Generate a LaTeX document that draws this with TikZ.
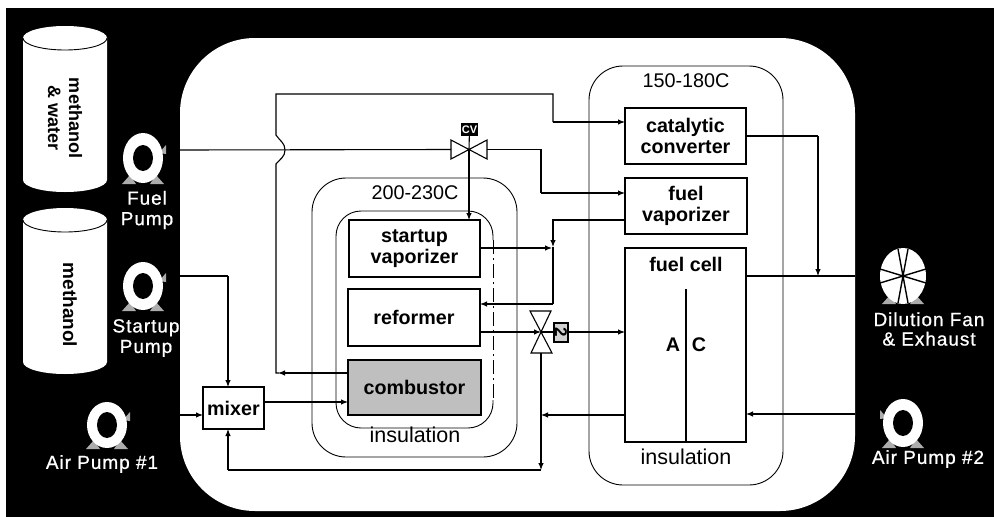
\documentclass[tikz,border=0pt]{standalone}
\usepackage{fontspec}
\setmainfont{Liberation Sans}
\newfontfamily\labfont[LetterSpace=5,FakeBold=0.8]{Liberation Sans}
\usetikzlibrary{arrows.meta,calc}
\tikzset{
  line/.style={draw=black,line width=1.1pt},
  flow/.style={line,-{Latex[length=7pt,width=5.5pt]}},
  boxnode/.style={draw=black,line width=1.2pt,fill=white,outer sep=0pt,inner sep=0pt,align=center,
    font=\fontsize{19.7}{21}\selectfont\bfseries},
  zone/.style={draw=black,line width=0.9pt,rounded corners=34pt,outer sep=0pt,inner sep=0pt},
  whitelab/.style={text=white,align=center,inner sep=0pt,font=\fontsize{19}{19.5}\selectfont\labfont},
  zonelab/.style={inner sep=0pt,font=\fontsize{19.8}{22}\selectfont},
  tanklab/.style={rotate=-90,inner sep=0pt,align=center,font=\fontsize{18}{21}\selectfont\bfseries},
  foot/.style={fill=gray!65,draw=none},
  valve/.style={draw=black,line width=1.1pt,fill=white,line join=miter},
}
\newcommand{\tankshape}[3]{% x centre, top-ellipse y, bottom-ellipse y
  \fill[white] (#1-42,#2) -- (#1-42,#3) arc[start angle=180,end angle=360,x radius=42pt,y radius=12pt]
    -- (#1+42,#2) arc[start angle=0,end angle=180,x radius=42pt,y radius=12pt] -- cycle;
  \draw[black,line width=0.9pt] (#1-42,#2) arc[start angle=180,end angle=360,x radius=42pt,y radius=12pt];
}
\newcommand{\pumpshape}[5]{% x, y, rx, ry, side of the small mark (+1 right, -1 left)
  \begin{scope}[shift={(#1,#2)}]
    \fill[foot] (-21,#4+1) -- (-7,#4+1) -- (-13,#4-8) -- cycle;
    \fill[foot] (7,#4+1) -- (21,#4+1) -- (13,#4-8) -- cycle;
    \fill[foot] (#5*16,-5) -- (#5*23,-13) -- (#5*23,-4) -- cycle;
    \fill[white] (0,0) ellipse[x radius=#3pt,y radius=#4pt];
    \fill[black] (0,0) ellipse[x radius=10pt,y radius=13pt];
  \end{scope}
}
\begin{document}
\begin{tikzpicture}[x=1pt,y=-1pt]
\useasboundingbox (0,0) rectangle (994,517);
\fill[black] (6,8) rectangle (994,517);
\node[fill=white,rounded corners=75pt,minimum width=675pt,minimum height=473pt,inner sep=0pt,outer sep=0pt] (panel) at (517.5,274.5) {};

% tanks
\tankshape{65}{38}{180}
\tankshape{65}{220}{362}
\node[tanklab] (tankA) at (65,118) {methanol\\\& water};
\node[tanklab,font=\fontsize{19}{21}\selectfont\bfseries] (tankB) at (70,305) {methanol};

% pumps and fan
\pumpshape{143}{158}{20}{25}{1}
\pumpshape{143}{286}{20}{24}{1}
\pumpshape{107}{425}{20}{23}{1}
\pumpshape{903}{423}{20}{24}{-1}
\begin{scope}[shift={(903,276)}]
  \fill[foot] (-21,28) -- (-7,28) -- (-13,19) -- cycle;
  \fill[foot] (7,28) -- (21,28) -- (13,19) -- cycle;
  \fill[white] (0,0) ellipse[x radius=23pt,y radius=28pt];
  \draw[black,line width=1.4pt] (-5,-27) -- (5,27) (5,-27) -- (-5,27) (-23,-7) -- (23,7) (23,-7) -- (-23,7);
\end{scope}
\node[whitelab] (lfuel) at (147,210) {Fuel\\[1pt]Pump};
\node[whitelab] (lstart) at (146,338) {Startup\\[1pt]Pump};
\node[whitelab] (lair1) at (102,464) {Air Pump \#1};
\node[whitelab] (ldil) at (929,329) {Dilution Fan\\[0pt]\& Exhaust};
\node[whitelab] (lair2) at (928,459) {Air Pump \#2};

% zones
\node[zone,minimum width=194pt,minimum height=419pt] (zoneB) at (686,275.5) {};
\node[zone,minimum width=205pt,minimum height=279pt] (zoneA) at (414.5,317.5) {};
\node[zonelab] (lzb) at (686,81) {150-180C};
\node[zonelab] (lza) at (415,193) {200-230C};
\node[inner sep=0pt,font=\fontsize{21.5}{23}\selectfont] (insa) at (415,435) {insulation};
\node[inner sep=0pt,font=\fontsize{21.5}{23}\selectfont] (insb) at (686,457) {insulation};
% inner insulation outline
\draw[black,line width=0.9pt,rounded corners=25pt] (493,240) -- (493,211) -- (336,211) -- (336,428) -- (493,428) -- (493,400);
\draw[black,line width=0.9pt,dash pattern=on 14pt off 4pt on 2pt off 4pt] (493,240) -- (493,400);

% component boxes
\node[boxnode,minimum width=121pt,minimum height=56pt] (cat) at (685.5,136) {catalytic\\converter};
\node[boxnode,minimum width=122pt,minimum height=56pt] (fvap) at (686,206) {fuel\\vaporizer};
\node[boxnode,minimum width=121pt,minimum height=194pt] (cell) at (685.5,345) {};
\node[inner sep=0pt,font=\fontsize{19.7}{23}\selectfont\bfseries] (lcell) at (686,264) {fuel cell};
\coordinate (divtop) at (686,289);
\draw[line] (divtop) -- (divtop |- cell.south);
\node[inner sep=0pt,font=\fontsize{19.7}{23}\selectfont\bfseries] (lA) at (673,345) {A};
\node[inner sep=0pt,font=\fontsize{19.7}{23}\selectfont\bfseries] (lC) at (699,345) {C};
\node[boxnode,minimum width=131pt,minimum height=57pt] (svap) at (414.5,248.5) {startup\\vaporizer};
\node[boxnode,minimum width=132pt,minimum height=57pt] (ref) at (414,317.5) {reformer};
\node[boxnode,fill=gray!50,line width=1.8pt,minimum width=133pt,minimum height=55pt] (comb) at (414.5,387.5) {combustor};
\node[boxnode,minimum width=61pt,minimum height=42pt] (mix) at (233.5,408) {mixer};

% free ends on the edge of the panel
\coordinate (fuelout) at (180,150);
\coordinate (startout) at (180,276);
\coordinate (air1out) at (180,415);
\coordinate (fanin) at (855,276);
\coordinate (air2out) at (855,414);

% valves
\coordinate (cv) at (469,149.5);
\coordinate (vt) at (541,332);
\draw[valve] (451,140) -- (cv) -- (451,159) -- cycle;
\draw[valve] (487,140) -- (cv) -- (487,159) -- cycle;
\draw[valve] (530,311) -- (551,311) -- (vt) -- cycle;
\draw[valve] (531,353) -- (552,353) -- (vt) -- cycle;
\node[fill=black,inner sep=0pt,minimum width=17pt,minimum height=13pt,text=white,font=\fontsize{11}{12}\selectfont\bfseries] (cvbox) at (469.5,129.5) {CV};
\node[draw=black,fill=gray!35,line width=1.2pt,inner sep=0pt,outer sep=0pt,minimum width=14pt,minimum height=19pt] (v2box) at (561,332.5) {\rotatebox{-90}{\fontsize{17}{17}\selectfont\bfseries 2}};

% fuel line and control valve
\draw[line] (fuelout) -- (451,149.5);
\draw[line] (cvbox) -- (cv);
\draw[flow] (cv) -- (cv |- svap.north);
\coordinate (a1) at (541,149.5);
\coordinate (a2) at (541,193);
\draw[line] (487,149.5) -- (a1) -- (a2);
\draw[flow] (a2) -- (a2 -| fvap.west);

% exhaust of the combustor to the catalytic converter
\coordinate (p1) at (276,373);
\coordinate (p2) at (276,135);
\coordinate (p3) at (276,164);
\coordinate (p4) at (276,94);
\coordinate (p5) at (553,94);
\coordinate (p6) at (553,122);
\draw[flow] (p1 -| comb.west) -- (278,373);
\draw[line] (279,373) -- (p1) -- (p3) .. controls (280,159) and (285,157) .. (285,150) .. controls (285,143) and (280,141) .. (p2) -- (p4) -- (p5) -- (p6);
\draw[flow] (p6) -- (p6 -| cat.west);

% vaporizer loops
\coordinate (q1) at (553,220);
\coordinate (q2) at (553,304);
\draw[flow] (q1 -| fvap.west) -- (q1) -- (553,247);
\draw[line] (553,247) -- (q2);
\draw[flow] (q2) -- (q2 -| ref.east);
\draw[flow] (svap.east |- 553,248) -- (552,248);

% reformer through valve to the fuel cell
\draw[flow] (ref.east |- vt) -- (vt);
\draw[line,line width=2.4pt] (vt) -- (v2box.west |- vt);
\draw[flow] (v2box.east |- vt) -- (vt -| cell.west);

% recycle to mixer
\coordinate (r1) at (541,470);
\coordinate (r2) at (228,470);
\draw[flow] (541,353) -- (r1);
\draw[line] (r1) -- (r2);
\draw[flow] (r2) -- (r2 |- mix.south);
\draw[flow] (cell.west |- 0,415) -- (541,415);

% mixer connections
\coordinate (s1) at (228,276);
\draw[line] (startout) -- (s1);
\draw[flow] (s1) -- (s1 |- mix.north);
\draw[flow] (air1out) -- (air1out -| mix.west);
\draw[flow] (mix.east |- 0,402) -- (comb.west |- 0,402);

% fuel cell and exhaust
\draw[line] (cell.east |- fanin) -- (fanin);
\coordinate (t1) at (818,136);
\draw[line] (cat.east |- t1) -- (t1);
\draw[flow] (t1) -- (t1 |- fanin);
\draw[flow] (air2out) -- (air2out -| cell.east);
\end{tikzpicture}
\end{document}
